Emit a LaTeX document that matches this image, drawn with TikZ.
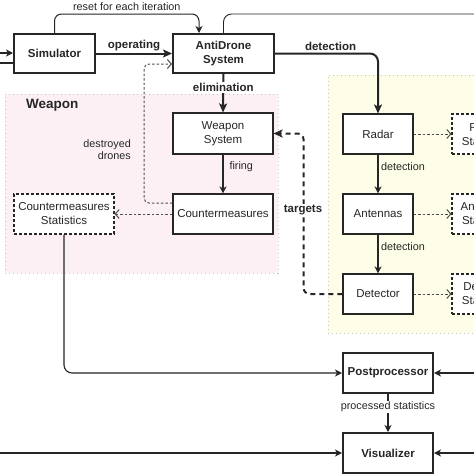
\documentclass[tikz,border=0pt]{standalone}
\usepackage{fontspec}
\setmainfont{Liberation Sans}
\usetikzlibrary{arrows.meta,calc}
\definecolor{ink}{HTML}{262626}
\definecolor{pinkbg}{HTML}{FDF0F4}
\definecolor{yellowbg}{HTML}{FDFDE8}
\definecolor{panelborder}{HTML}{C4C4C4}
\definecolor{dotcol}{HTML}{505050}
\begin{document}
\begin{tikzpicture}[x=1pt,y=-1pt,
  every node/.style={text=ink, font=\fontsize{11.5}{14}\selectfont, align=center},
  box/.style={draw=ink, line width=1.1pt, fill=white, inner sep=1pt},
  bigbox/.style={box, line width=2pt, font=\fontsize{11.5}{14}\selectfont\bfseries},
  statbox/.style={box, dash pattern=on 3pt off 2pt},
  panel/.style={draw=panelborder, line width=1pt, dash pattern=on 1pt off 3pt},
  lbl/.style={font=\fontsize{10.8}{12}\selectfont, inner sep=1pt},
  blbl/.style={font=\fontsize{11.5}{13}\selectfont\bfseries, inner sep=1pt},
  sarr/.style={draw=ink, line width=1.1pt, -{Stealth[length=7pt,width=7pt,inset=2pt]}},
  tarr/.style={draw=ink, line width=2pt, -{Stealth[length=9pt,width=8pt,inset=2pt]}},
  dotarr/.style={draw=dotcol, line width=1pt, dash pattern=on 2.5pt off 2pt, -{Straight Barb[length=4pt,width=9pt,line width=1pt]}},
  dasharr/.style={draw=ink, line width=2pt, dash pattern=on 5pt off 4pt, -{Stealth[length=9pt,width=8pt,inset=2pt]}}
]
\useasboundingbox (0,0) rectangle (474,474);
\clip (0,0) rectangle (474,474);
\fill[white] (0,0) rectangle (474,474);

% panels
\node[panel, fill=pinkbg, minimum width=273, minimum height=179] (wpanel) at (141.5,183.5) {};
\node[panel, fill=yellowbg, minimum width=154, minimum height=258] (dpanel) at (405,204) {};
\node[font=\fontsize{13.5}{15}\selectfont\bfseries, anchor=west, inner sep=0] (wlabel) at (26,105) {Weapon};

% main boxes
\node[bigbox, minimum width=81, minimum height=39] (sim) at (54.5,53.5) {Simulator};
\node[bigbox, minimum width=101, minimum height=39] (ads) at (223.5,53.5) {AntiDrone\\System};
\node[box, minimum width=100, minimum height=41] (ws) at (223,133.5) {Weapon\\System};
\node[box, minimum width=100, minimum height=40] (cm) at (223,214) {Countermeasures};
\node[statbox, minimum width=100, minimum height=40] (cms) at (64,214) {Countermeasures\\Statistics};
\node[box, minimum width=70, minimum height=40] (radar) at (378,134) {Radar};
\node[box, minimum width=70, minimum height=40] (ant) at (378,214) {Antennas};
\node[box, minimum width=70, minimum height=40] (det) at (378,294) {Detector};
\node[statbox, minimum width=66, minimum height=40] (rs) at (485,134) {Radar\\Statistics};
\node[statbox, minimum width=66, minimum height=40] (as) at (485,214) {Antennas\\Statistics};
\node[statbox, minimum width=66, minimum height=40] (ds) at (485,294) {Detector\\Statistics};
\node[bigbox, minimum width=90, minimum height=40] (pp) at (388,373) {Postprocessor};
\node[bigbox, minimum width=90, minimum height=40] (vis) at (388,453) {Visualizer};

% free ends
\coordinate (lin) at (-5,53);
\coordinate (lout) at (-5,63);
\coordinate (topr) at (480,14);
\coordinate (ppr) at (480,373);
\coordinate (visl) at (-5,453);
\coordinate (visr) at (480,453);

% connectors
\draw[sarr] (lin) -- (lin -| sim.west);
\draw[draw=ink, line width=1.6pt] ([yshift=-9.5pt]sim.west) -- (lout);
\draw[sarr, line width=1pt, rounded corners=7] (sim.north) -- ++(0,-19) -| ([xshift=-24.5pt]ads.north)
  node[pos=0.25, above=2pt, lbl] {reset for each iteration};
\draw[draw=ink, line width=0.9pt, rounded corners=8] (ads.north) |- (topr);
\draw[tarr] (sim.east) -- (ads.west) node[midway, above=1pt, blbl] {operating};
\draw[tarr, rounded corners=8] (ads.east) -| (radar.north) node[pos=0.27, above=1pt, blbl] {detection};
\draw[tarr] (ads.south) -- (ws.north) node[pos=0.35, fill=white, blbl] {elimination};
\draw[sarr] (ws.south) -- (cm.north) node[pos=0.3, right=5pt, lbl] {firing};
\draw[dotarr, rounded corners=5] ([yshift=11pt]cm.west) -| (144,64) -- ([yshift=-10.5pt]ads.west);
\node[lbl, align=right, anchor=east] (ddl) at (132,149.5) {destroyed\\drones};
\draw[dotarr] (cm.west) -- (cms.east);
\draw[sarr] (radar.south) -- (ant.north) node[pos=0.3, right=1.5pt, lbl] {detection};
\draw[sarr] (ant.south) -- (det.north) node[pos=0.3, right=1.5pt, lbl] {detection};
\draw[dotarr] (radar.east) -- (rs.west);
\draw[dotarr] (ant.east) -- (as.west);
\draw[dotarr] (det.east) -- (ds.west);
\draw[dasharr, rounded corners=6] (det.west) -| ($(ws.east)+(30,0)$) -- (ws.east);
\node[blbl, fill=white] (tgt) at (303,210) {targets};
\draw[sarr, rounded corners=8] (cms.south) |- (pp.west);
\draw[sarr] (ppr) -- (pp.east);
\draw[sarr] (pp.south) -- (vis.north) node[pos=0.33, fill=white, lbl] {processed statistics};
\draw[sarr] (visl) -- (vis.west);
\draw[sarr] (visr) -- (vis.east);
\end{tikzpicture}
\end{document}
